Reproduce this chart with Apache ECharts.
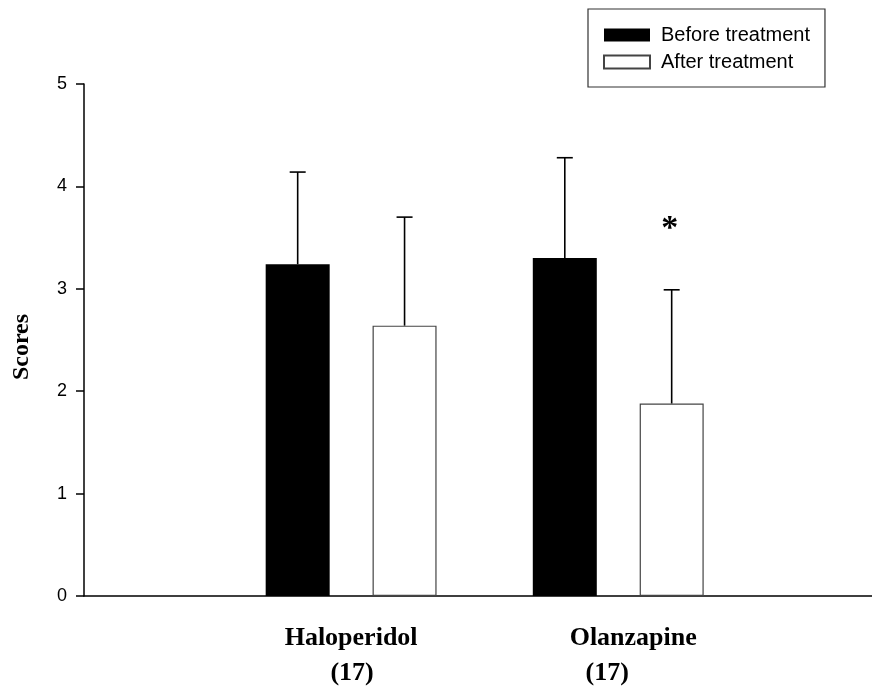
<!DOCTYPE html>
<html>
<head>
<meta charset="utf-8">
<script src="https://cdn.jsdelivr.net/npm/echarts@6/dist/echarts.min.js"></script>
<style>
  html, body { margin: 0; padding: 0; background: #fff; }
  #chart { width: 872px; height: 689px; }
</style>
</head>
<body>
<div id="chart"></div>
<script>
// Treatment groups, placed at x = 1 and x = 2 on a numeric x axis.
const categories = ['Haloperidol', 'Olanzapine'];
const groupSizes = ['(17)', '(17)'];
const groupX = [1, 2];
const beforeMean = [3.24, 3.30];
const beforeSD = [0.90, 0.98];
const afterMean = [2.64, 1.88];
const afterSD = [1.06, 1.11];
const afterSignificant = [false, true];
const yTicks = [0, 1, 2, 3, 4, 5];

// x axis runs a little past the last group so the baseline reaches the right edge
const X_MAX = 2.95;
const BAR_W = 64;
const BAR_GAP = 0.67;
const SIDE_OFFSET = (BAR_W + BAR_W * BAR_GAP) / 2;
const CAP_HALF = 8;

const SERIF = '"Liberation Serif", "Times New Roman", serif';
const SANS = '"Liberation Sans", Arial, sans-serif';

const beforeData = groupX.map((x, i) => [x, beforeMean[i]]);
const afterData = groupX.map((x, i) => [x, afterMean[i]]);

// error bar records: [x, mean, sd, side(-1 before / +1 after), significant]
const errData = [];
groupX.forEach((x, i) => {
  errData.push([x, beforeMean[i], beforeSD[i], -1, 0]);
  errData.push([x, afterMean[i], afterSD[i], 1, afterSignificant[i] ? 1 : 0]);
});

function renderErr(params, api) {
  const gx = api.value(0), mean = api.value(1), sd = api.value(2);
  const side = api.value(3), sig = api.value(4);
  const base = api.coord([gx, mean]);
  const top = api.coord([gx, mean + sd]);
  const x = base[0] + side * SIDE_OFFSET;
  const style = { stroke: '#000', lineWidth: 1.6 };
  const children = [
    { type: 'line', shape: { x1: x, y1: base[1], x2: x, y2: top[1] }, style },
    { type: 'line', shape: { x1: x - CAP_HALF, y1: top[1], x2: x + CAP_HALF, y2: top[1] }, style }
  ];
  if (sig) {
    children.push({
      type: 'text',
      style: {
        text: '*', x: x - 2, y: top[1] - 61,
        font: 'bold 34px ' + SERIF, fill: '#000',
        align: 'center', verticalAlign: 'middle'
      }
    });
  }
  return { type: 'group', children };
}

const labelPads = {
  'Haloperidol': { name: [0, 0, 0, 0], n: [0, 0, 0, 2] },
  'Olanzapine': { name: [0, 0, 0, 30], n: [0, 22, 0, 0] }
};
const richBase = { fontFamily: SERIF, fontWeight: 'bold', fontSize: 26, lineHeight: 35, color: '#000' };

const chart = echarts.init(document.getElementById('chart'), null, { renderer: 'canvas' });
chart.setOption({
  backgroundColor: '#fff',
  animation: false,
  grid: { left: 84, right: 0, top: 84, bottom: 93 },
  legend: {
    orient: 'vertical',
    left: 588, top: 9,
    padding: [16, 15, 15, 15],
    itemGap: 7,
    itemWidth: 46, itemHeight: 13,
    borderColor: '#333', borderWidth: 1.2,
    backgroundColor: '#fff',
    icon: 'rect',
    textStyle: { fontFamily: SANS, fontSize: 20, color: '#000', padding: [0, 0, 0, 6] },
    data: ['Before treatment', 'After treatment']
  },
  xAxis: {
    type: 'value',
    min: 0, max: X_MAX,
    axisLine: { show: true, lineStyle: { color: '#000', width: 1.5 } },
    axisTick: { show: false },
    splitLine: { show: false },
    axisLabel: {
      customValues: groupX,
      margin: 25,
      formatter: (v) => {
        const i = groupX.indexOf(v);
        if (i < 0) return '';
        const key = i === 0 ? 'h' : 'o';
        return '{' + key + 'n|' + categories[i] + '}\n{' + key + 'c|' + groupSizes[i] + '}';
      },
      rich: {
        hn: Object.assign({ padding: labelPads['Haloperidol'].name }, richBase),
        hc: Object.assign({ padding: labelPads['Haloperidol'].n }, richBase),
        on: Object.assign({ padding: labelPads['Olanzapine'].name }, richBase),
        oc: Object.assign({ padding: labelPads['Olanzapine'].n }, richBase)
      }
    }
  },
  yAxis: {
    type: 'value',
    min: yTicks[0], max: yTicks[yTicks.length - 1], interval: 1,
    name: 'Scores',
    nameLocation: 'middle',
    nameRotate: 90,
    nameGap: 50,
    nameTextStyle: { fontFamily: SERIF, fontWeight: 'bold', fontSize: 24, color: '#000', padding: [0, 14, 0, 0] },
    axisLine: { show: true, lineStyle: { color: '#000', width: 1.5 } },
    axisTick: { show: true, length: 8, lineStyle: { color: '#000', width: 1.5 } },
    splitLine: { show: false },
    axisLabel: { fontFamily: SANS, fontSize: 18, color: '#000', margin: 17 }
  },
  series: [
    {
      name: 'Before treatment',
      type: 'bar',
      data: beforeData,
      barWidth: BAR_W,
      barGap: (BAR_GAP * 100) + '%',
      itemStyle: { color: '#000', borderColor: '#000', borderWidth: 0 }
    },
    {
      name: 'After treatment',
      type: 'bar',
      data: afterData,
      barWidth: BAR_W,
      barGap: (BAR_GAP * 100) + '%',
      itemStyle: { color: '#fff', borderColor: '#444', borderWidth: 1.2 }
    },
    {
      name: 'error',
      type: 'custom',
      data: errData,
      renderItem: renderErr,
      z: 5,
      silent: true
    }
  ]
});
</script>
</body>
</html>
